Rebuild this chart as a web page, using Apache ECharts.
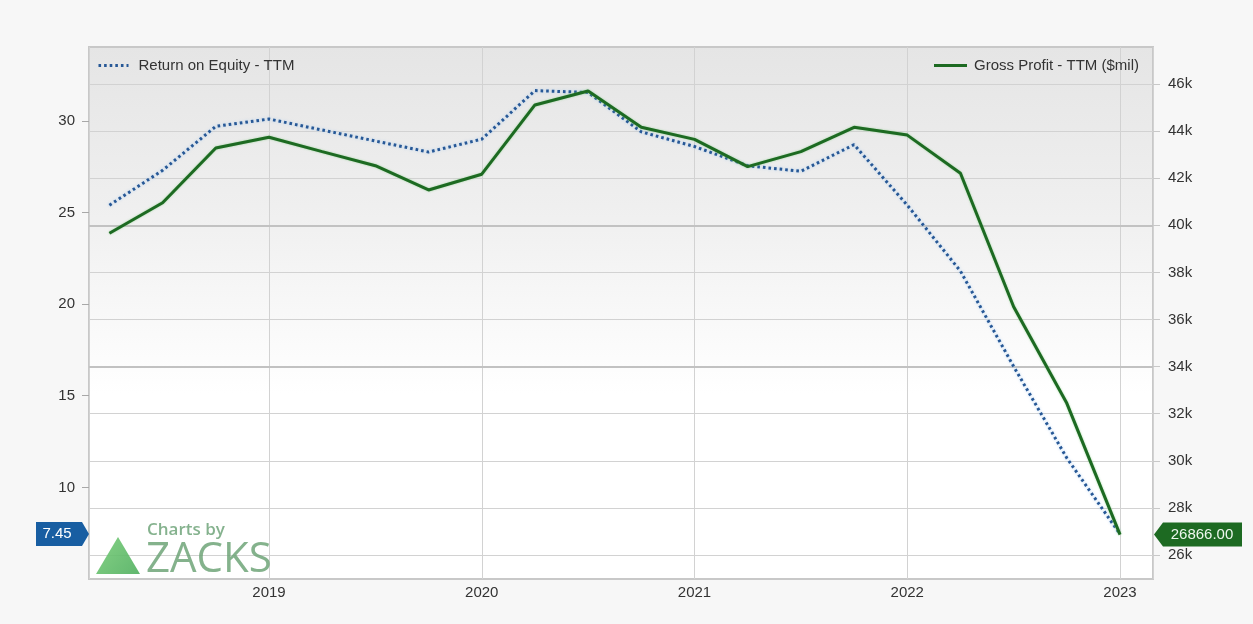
<!DOCTYPE html>
<html>
<head>
<meta charset="utf-8">
<title>Return on Equity vs Gross Profit - TTM</title>
<script src="https://cdn.jsdelivr.net/npm/echarts@6/dist/echarts.min.js"></script>
<style>
  html, body { margin: 0; padding: 0; background: #f7f7f7; }
  #chart { width: 1253px; height: 624px; }
</style>
</head>
<body>
<div id="chart"></div>
<script>
// Quarter ends (YYYY-MM) and trailing-twelve-month values
const quarters = [
  '2018-03', '2018-06', '2018-09', '2018-12',
  '2019-03', '2019-06', '2019-09', '2019-12',
  '2020-03', '2020-06', '2020-09', '2020-12',
  '2021-03', '2021-06', '2021-09', '2021-12',
  '2022-03', '2022-06', '2022-09', '2022-12'
];
const roeTTM = [
  25.4, 27.3, 29.7, 30.1,
  29.5, 28.9, 28.3, 29.0,
  31.65, 31.55, 29.4, 28.6,
  27.55, 27.25, 28.7, 25.4,
  21.8, 16.6, 11.6, 7.45
];
const grossProfitTTM = [
  39660, 40960, 43280, 43740,
  43130, 42530, 41500, 42170,
  45110, 45700, 44160, 43650,
  42490, 43130, 44160, 43830,
  42210, 36540, 32440, 26866
];

// Axis labels
const yearLabels = [2019, 2020, 2021, 2022, 2023];
const roeTicks = [10, 15, 20, 25, 30];
const gpTicks = [26000, 28000, 30000, 32000, 34000, 36000, 38000, 40000, 42000, 44000, 46000];
const emphasisLines = [40000, 34000];

const roeName = 'Return on Equity - TTM';
const gpName = 'Gross Profit - TTM ($mil)';

// quarter end -> fractional year (e.g. 2018-12 -> 2019.0)
const toYear = q => { const [y, m] = q.split('-').map(Number); return y + m / 12; };
const roeData = quarters.map((q, i) => [toYear(q), roeTTM[i]]);
const gpData = quarters.map((q, i) => [toYear(q), grossProfitTTM[i]]);

const FONT = '"Liberation Sans", Arial, sans-serif';
const labelStyle = { color: '#333', fontSize: 15, fontFamily: FONT };

const ROE_COLOR = '#275896';
const GP_COLOR = '#1d6a22';
const ROE_DASH = [2.6, 3];

const chart = echarts.init(document.getElementById('chart'), null, { renderer: 'canvas' });

const GRID = { left: 89, right: 100, top: 47, bottom: 45 };

chart.setOption({
  animation: false,
  backgroundColor: '#f7f7f7',
  grid: {
    left: GRID.left, right: GRID.right, top: GRID.top, bottom: GRID.bottom,
    show: true,
    borderColor: '#c8c8c8',
    borderWidth: 2,
    backgroundColor: new echarts.graphic.LinearGradient(0, 0, 0, 1, [
      { offset: 0, color: '#e5e5e5' },
      { offset: 0.3, color: '#efefef' },
      { offset: 0.65, color: '#ffffff' },
      { offset: 1, color: '#ffffff' }
    ])
  },
  legend: [
    {
      data: [roeName], left: 97, top: 58, padding: 0, itemWidth: 30, itemHeight: 14,
      itemStyle: { opacity: 0 },
      lineStyle: { width: 3, type: ROE_DASH, color: ROE_COLOR },
      selectedMode: false, textStyle: Object.assign({ padding: [0, 0, 0, 5] }, labelStyle)
    },
    {
      data: [gpName], right: 114, top: 58, padding: 0, itemWidth: 33, itemHeight: 14,
      itemStyle: { opacity: 0 },
      lineStyle: { width: 3, color: GP_COLOR },
      selectedMode: false, textStyle: Object.assign({ padding: [0, 0, 0, 2] }, labelStyle)
    }
  ],
  xAxis: {
    type: 'value',
    min: 2018.154,
    max: 2023.155,
    splitNumber: 5,
    axisLine: { show: false },
    axisTick: { show: false },
    splitLine: { show: true, lineStyle: { color: '#d2d2d2', width: 1 } },
    axisLabel: Object.assign({ customValues: yearLabels, margin: 6, formatter: v => String(Math.round(v)) }, labelStyle)
  },
  yAxis: [
    {
      type: 'value',
      position: 'left',
      min: 5,
      max: 34.03,
      axisLine: { show: false },
      axisTick: { show: true, length: 7, customValues: roeTicks, lineStyle: { color: '#a8a8a8' } },
      splitLine: { show: false },
      axisLabel: Object.assign({ customValues: roeTicks, margin: 14 }, labelStyle)
    },
    {
      type: 'value',
      position: 'right',
      min: 24981,
      max: 47571,
      splitNumber: 11,
      axisLine: { show: false },
      axisTick: { show: true, length: 7, customValues: gpTicks, lineStyle: { color: '#c8c8c8' } },
      splitLine: { show: true, lineStyle: { color: '#d2d2d2', width: 1 } },
      axisLabel: Object.assign({
        customValues: gpTicks, margin: 15,
        formatter: v => (v / 1000) + 'k'
      }, labelStyle)
    }
  ],
  series: [
    {
      name: roeName,
      type: 'line',
      yAxisIndex: 0,
      data: roeData,
      symbol: 'none',
      z: 3,
      lineStyle: {
        color: ROE_COLOR, width: 3, type: ROE_DASH,
        shadowColor: 'rgba(160, 200, 240, 0.8)', shadowBlur: 3
      },
      itemStyle: { color: ROE_COLOR }
    },
    {
      name: gpName,
      type: 'line',
      yAxisIndex: 1,
      data: gpData,
      symbol: 'none',
      z: 4,
      lineStyle: {
        color: GP_COLOR, width: 3,
        shadowColor: 'rgba(120, 200, 120, 0.7)', shadowBlur: 2
      },
      itemStyle: { color: GP_COLOR },
      markLine: {
        silent: true,
        symbol: 'none',
        z: 1,
        label: { show: false },
        lineStyle: { color: '#c2c2c2', width: 2, type: 'solid' },
        data: emphasisLines.map(v => ({ yAxis: v }))
      }
    }
  ]
});

// Last-value badges on each value axis, plus the watermark
const lastRoe = roeTTM[roeTTM.length - 1];
const lastGp = grossProfitTTM[grossProfitTTM.length - 1];
const yRoe = chart.convertToPixel({ yAxisIndex: 0 }, lastRoe);
const yGp = chart.convertToPixel({ yAxisIndex: 1 }, lastGp);
const gx0 = GRID.left;
const gx1 = 1253 - GRID.right;

function leftBadge(y, text, color) {
  return [
    { type: 'polygon', z: 100, shape: { points: [[36, y - 12], [82, y - 12], [gx0, y], [82, y + 12], [36, y + 12]] }, style: { fill: color } },
    { type: 'text', z: 101, style: { text: text, x: 57, y: y, textAlign: 'center', textVerticalAlign: 'middle', fill: '#ffffff', font: '15px ' + FONT } }
  ];
}
function rightBadge(y, text, color) {
  return [
    { type: 'polygon', z: 100, shape: { points: [[gx1 + 1, y], [gx1 + 10, y - 12], [1242, y - 12], [1242, y + 12], [gx1 + 10, y + 12]] }, style: { fill: color } },
    { type: 'text', z: 101, style: { text: text, x: 1202, y: y, textAlign: 'center', textVerticalAlign: 'middle', fill: '#eef7ee', font: '15px ' + FONT } }
  ];
}

const watermark = [
  {
    type: 'polygon', z: 50,
    shape: { points: [[118, 537], [140, 574], [96, 574]] },
    style: {
      fill: new echarts.graphic.LinearGradient(0, 0, 1, 1, [
        { offset: 0, color: 'rgba(120, 205, 120, 0.9)' },
        { offset: 1, color: 'rgba(80, 175, 95, 0.9)' }
      ])
    }
  },
  {
    type: 'text', z: 50,
    style: { text: 'Charts by', x: 147, y: 530, textVerticalAlign: 'middle', fill: 'rgba(120, 170, 130, 0.9)', font: '600 17px "Open Sans", sans-serif' }
  },
  {
    type: 'text', z: 50,
    style: { text: 'ZACKS', x: 146, y: 560, textVerticalAlign: 'middle', fill: 'rgba(110, 165, 120, 0.85)', font: '42px "Open Sans", sans-serif' }
  }
];

chart.setOption({
  graphic: [].concat(
    watermark,
    leftBadge(yRoe, lastRoe.toFixed(2), '#185ea2'),
    rightBadge(yGp, lastGp.toFixed(2), GP_COLOR)
  )
});
</script>
</body>
</html>
